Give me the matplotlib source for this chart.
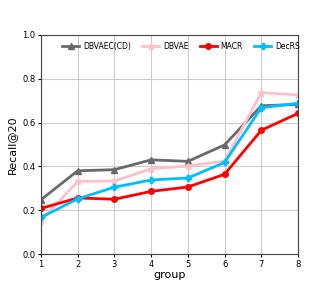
import matplotlib
matplotlib.use("Agg")
import matplotlib.pyplot as plt

groups = [1, 2, 3, 4, 5, 6, 7, 8]
dbvaec = [0.248, 0.380, 0.385, 0.430, 0.423, 0.498, 0.677, 0.683]
dbvae = [0.152, 0.332, 0.333, 0.389, 0.402, 0.424, 0.737, 0.726]
macr = [0.208, 0.256, 0.250, 0.286, 0.306, 0.364, 0.565, 0.642]
decrs = [0.167, 0.252, 0.305, 0.338, 0.347, 0.418, 0.668, 0.688]
labels = ["DBVAEC(CD)", "DBVAE", "MACR", "DecRS"]

fig = plt.figure(figsize=(3.32, 2.91), dpi=100)
ax = fig.add_axes([41/332, 1-254/291, (298-41)/332, (254-35)/291])

ax.plot(groups, dbvaec, color="dimgray", marker="^", markersize=4, lw=2, label=labels[0])
ax.plot(groups, dbvae, color="pink", marker="*", markersize=5, lw=2, label=labels[1])
ax.plot(groups, macr, color="red", marker="o", markersize=4, lw=2, label=labels[2])
ax.plot(groups, decrs, color="deepskyblue", marker="P", markersize=4, lw=2, label=labels[3])

ax.set_xlim(1, 8)
ax.set_ylim(0, 1.0)
ax.set_xticks(groups)
ax.set_yticks([0.0, 0.2, 0.4, 0.6, 0.8, 1.0])
ax.tick_params(labelsize=6, length=2, pad=2)
ax.grid(True, color="#cccccc", lw=0.8)
for s in ax.spines.values():
    s.set_color("#444444")
ax.set_xlabel("group", fontsize=8, labelpad=1)
ax.set_ylabel("Recall@20", fontsize=8, labelpad=4)
ax.legend(loc="upper center", ncol=4, frameon=False, fontsize=5.5,
          handlelength=2.2, columnspacing=1.5, handletextpad=0.5,
          bbox_to_anchor=(0.545, 1.0))

fig.savefig("out.png", dpi=100)
